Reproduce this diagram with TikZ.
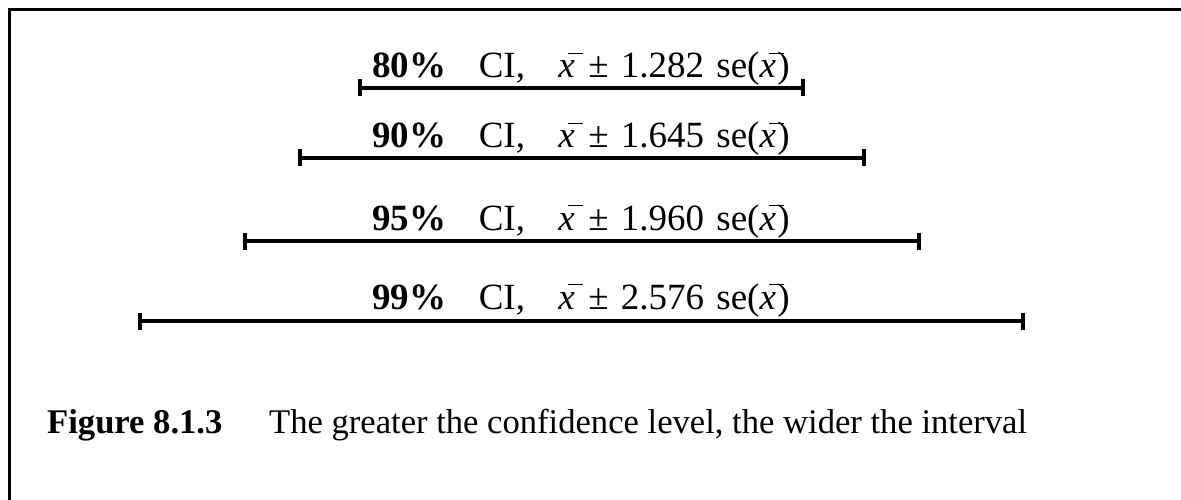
\documentclass[tikz,border=0pt]{standalone}
\usepackage{fontspec}
\setmainfont{Liberation Serif}
\usepackage{tikz}
\usetikzlibrary{arrows.meta}

% x with a bar set a little to the right, as in the figure
\newcommand{\xbr}{\textit{x}\rlap{\kern-0.18em\raisebox{0.64em}{\rule{0.4em}{0.045em}}}\kern0.04em}
% wider word space inside the labels
\newcommand{\wsp}{\hspace{0.33em}}

\begin{document}
\begin{tikzpicture}[
    x=1pt, y=-1pt,
    % Global styles
    font=\fontsize{35}{42}\selectfont,
    % Text styles
    cilabel/.style={anchor=base west, inner sep=0pt, font=\fontsize{37}{42}\selectfont},
    captext/.style={anchor=base west, inner sep=0pt, font=\fontsize{34.6}{42}\selectfont},
    % Line styles
    ciline/.style={line width=4pt, {Bar[width=17pt]}-{Bar[width=17pt]}},
    frameline/.style={line width=3pt},
  ]
  \useasboundingbox (0,0) rectangle (1181,500);

  % frame, top and left only
  \draw[frameline] (1181,9.5) -- (9.5,9.5) -- (9.5,500);

  % ====================================================================
  % Interval labels
  % ====================================================================
  \node[cilabel] (l80) at (372,78)  {\textbf{80\%}\hspace{0.88em}CI,\hspace{0.9em}\xbr\wsp±\wsp1.282\wsp se(\xbr)};
  \node[cilabel] (l90) at (372,148) {\textbf{90\%}\hspace{0.88em}CI,\hspace{0.9em}\xbr\wsp±\wsp1.645\wsp se(\xbr)};
  \node[cilabel] (l95) at (372,230) {\textbf{95\%}\hspace{0.88em}CI,\hspace{0.9em}\xbr\wsp±\wsp1.960\wsp se(\xbr)};
  \node[cilabel] (l99) at (372,309) {\textbf{99\%}\hspace{0.88em}CI,\hspace{0.9em}\xbr\wsp±\wsp2.576\wsp se(\xbr)};

  % ====================================================================
  % Interval end points
  % ====================================================================
  \coordinate (a80) at (358,88);   \coordinate (b80) at (805,88);
  \coordinate (a90) at (298,158);  \coordinate (b90) at (866,158);
  \coordinate (a95) at (243,241);  \coordinate (b95) at (921,241);
  \coordinate (a99) at (138,321);  \coordinate (b99) at (1025,321);

  % Intervals
  \draw[ciline] (a80) -- (b80);
  \draw[ciline] (a90) -- (b90);
  \draw[ciline] (a95) -- (b95);
  \draw[ciline] (a99) -- (b99);

  % Caption
  \node[captext] (cap) at (47,433) {\textbf{Figure 8.1.3}\hspace{1.35em}The greater the confidence level, the wider the interval};

\end{tikzpicture}
\end{document}
